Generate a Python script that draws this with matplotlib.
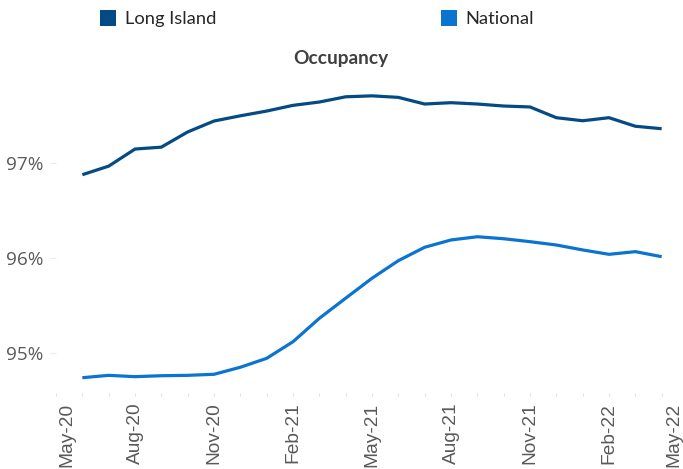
import matplotlib
matplotlib.use("Agg")
import matplotlib.pyplot as plt
from matplotlib.lines import Line2D
from matplotlib.transforms import ScaledTranslation
import numpy as np

# ---- data ----
months = ['May-20', 'Jun-20', 'Jul-20', 'Aug-20', 'Sep-20', 'Oct-20', 'Nov-20', 'Dec-20',
          'Jan-21', 'Feb-21', 'Mar-21', 'Apr-21', 'May-21', 'Jun-21', 'Jul-21', 'Aug-21',
          'Sep-21', 'Oct-21', 'Nov-21', 'Dec-21', 'Jan-22', 'Feb-22', 'Mar-22', 'Apr-22', 'May-22']
data_months = months[1:24]  # Jun-20 .. Apr-22
long_island = [96.88, 96.97, 97.15, 97.17, 97.33, 97.445, 97.50, 97.55, 97.61, 97.645, 97.70, 97.71,
               97.694, 97.624, 97.638, 97.624, 97.603, 97.593, 97.48, 97.448, 97.48, 97.39, 97.364]
national = [94.743, 94.768, 94.754, 94.764, 94.768, 94.779, 94.853, 94.947, 95.122, 95.368, 95.58, 95.79,
            95.975, 96.116, 96.193, 96.227, 96.206, 96.175, 96.14, 96.088, 96.042, 96.07, 96.017]
tick_labels = months[::3]
y_ticks = [95, 96, 97]
y_tick_labels = ['95%', '96%', '97%']
series_names = ['Long Island', 'National']

c_li = '#044a84'
c_nat = '#0a74d0'
grey = '#595959'

W, H = 683, 469
fig = plt.figure(figsize=(W / 100, H / 100), dpi=100)
ax = fig.add_axes([56 / W, 1 - 393 / H, 632 / W, (393 - 90) / H])

x_all = {m: i for i, m in enumerate(months)}
xd = [x_all[m] for m in data_months]
ax.plot(xd, long_island, color=c_li, lw=2.3, solid_capstyle='butt', solid_joinstyle='round')
ax.plot(xd, national, color=c_nat, lw=2.3, solid_capstyle='butt', solid_joinstyle='round')

ax.set_xlim(0, len(months) - 1)
ax.set_ylim(95 - (393 - 353.3) / 95, 97 + (163.3 - 90) / 95)

for s in ax.spines.values():
    s.set_visible(False)

ax.set_xticks([x_all[m] for m in tick_labels])
ax.set_xticks(range(len(months)), minor=True)
ax.set_xticklabels(tick_labels, rotation=90, fontfamily='Liberation Sans', fontsize=13.8, color=grey)
ax.tick_params(axis='x', which='both', length=2.5, width=0.8, color='#e3e3e3', pad=4.5)

ax.set_yticks(y_ticks)
ax.set_yticklabels(y_tick_labels, fontfamily='Open Sans', fontsize=13.6, color=grey)
ax.tick_params(axis='y', which='major', length=4, width=0.8, color='#ececec', pad=5)

# shift edge labels inward
lbls = ax.get_xticklabels()
lbls[0].set_transform(lbls[0].get_transform() + ScaledTranslation(11 / 100, 0, fig.dpi_scale_trans))
lbls[-1].set_transform(lbls[-1].get_transform() + ScaledTranslation(-14 / 100, 0, fig.dpi_scale_trans))

# legends
for name, col, xpx in [(series_names[0], c_li, 100), (series_names[1], c_nat, 441)]:
    h = Line2D([], [], marker='s', color=col, linestyle='none', markersize=11.5, markeredgewidth=0)
    fig.legend([h], [name], loc='center left', bbox_to_anchor=(xpx / W, 1 - 19 / H),
               frameon=False, borderpad=0, borderaxespad=0, handlelength=0.9, handletextpad=0.45,
               prop={'family': 'Lato', 'size': 13.2}, labelcolor='#262626')

fig.text(340.8 / W, 1 - 64 / H, 'Occupancy', ha='center', va='baseline',
         fontfamily='Lato', fontweight='bold', fontsize=13.8, color='#404040')

fig.savefig('out.png', dpi=100)
